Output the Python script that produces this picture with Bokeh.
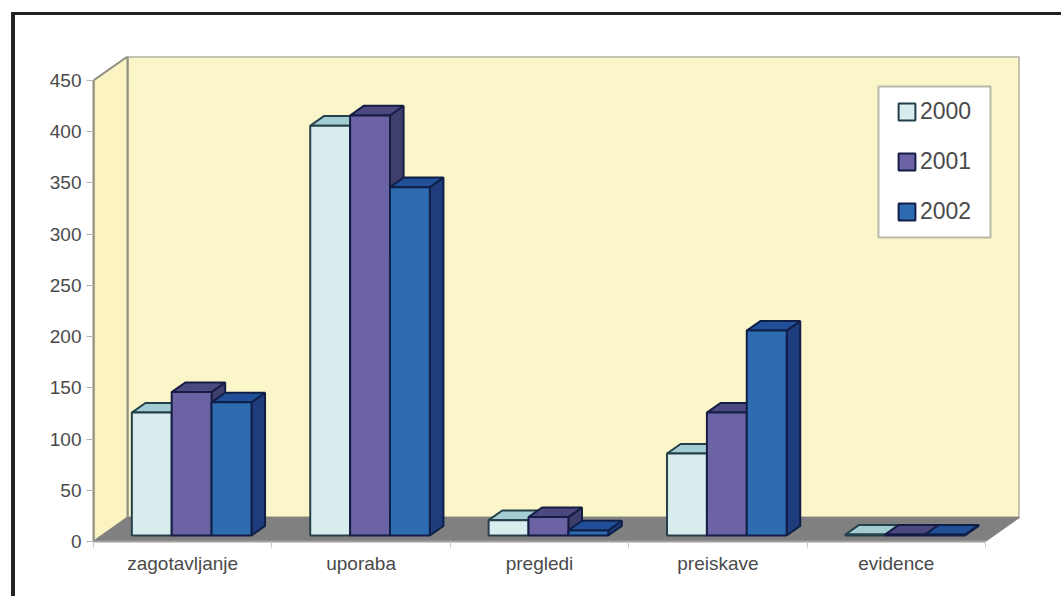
from bokeh.embed import file_html
from bokeh.models import (ColumnDataSource, FixedTicker, InlineStyleSheet, Legend,
                          LegendItem, LinearAxis, Range1d)
from bokeh.plotting import figure
from bokeh.resources import INLINE

# Chart data
categories = ["zagotavljanje", "uporaba", "pregledi", "preiskave", "evidence"]
years = ["2000", "2001", "2002"]
values_2000 = [120, 400, 15, 80, 1]
values_2001 = [140, 410, 18, 120, 1]
values_2002 = [130, 340, 5, 200, 1]
y_ticks = [0, 50, 100, 150, 200, 250, 300, 350, 400, 450]

# Colours per series: front, top and side faces, then the outline
palette = {
    "2000": ("#d9edee", "#a3cdd2", "#7fa9ae", "#24404a"),
    "2001": ("#6b63a3", "#4c4981", "#3f3f6c", "#161d44"),
    "2002": ("#2e6cb2", "#215099", "#1f3c7d", "#101f48"),
}
WALL = "#fbf6c9"
SIDE_WALL = "#fbf4c2"
FLOOR = "#808080"
WALL_LINE = "#8f8f82"
TEXT = "#4a4a4a"

# Pseudo-3D geometry in data units (one category = 1 on x)
DEPTH_X = 0.1906
DEPTH_Y = 23.4
N = len(categories)
BAR_W = 0.2235
GROUP_PAD = 0.1672
BAR_NEAR = 0.25
BAR_FAR = 0.65

p = figure(width=1061, height=596, output_backend="svg", toolbar_location=None,
           x_range=Range1d(0, N + DEPTH_X), y_range=Range1d(0, 450 + DEPTH_Y),
           min_border_left=93, min_border_right=42, min_border_top=56,
           min_border_bottom=55, x_axis_type=None, y_axis_type=None,
           outline_line_color=None, background_fill_color="white",
           border_fill_color="white")
p.grid.visible = False

# Dark frame along the top and left of the page
p.stylesheets = [InlineStyleSheet(css="""
:host { position: relative; }
:host::after {
  content: ""; position: absolute; left: 11px; top: 12px; right: 0; bottom: 0;
  border-left: 4px solid #222222; border-top: 3px solid #222222;
  pointer-events: none;
}
""")]

# Back wall, left wall and floor of the chart box
p.patch([DEPTH_X, N + DEPTH_X, N + DEPTH_X, DEPTH_X],
        [DEPTH_Y, DEPTH_Y, 450 + DEPTH_Y, 450 + DEPTH_Y],
        fill_color=WALL, line_color=WALL_LINE, line_width=2)
p.patch([0, DEPTH_X, DEPTH_X, 0], [0, DEPTH_Y, 450 + DEPTH_Y, 450],
        fill_color=SIDE_WALL, line_color=WALL_LINE, line_width=2)
p.patch([0, N, N + DEPTH_X, DEPTH_X], [0, 0, DEPTH_Y, DEPTH_Y],
        fill_color=FLOOR, line_color=FLOOR, line_width=1)

# Bars, drawn left to right so that each front hides its neighbour's side
near_x = BAR_NEAR * DEPTH_X
near_y = BAR_NEAR * DEPTH_Y
span_x = (BAR_FAR - BAR_NEAR) * DEPTH_X
span_y = (BAR_FAR - BAR_NEAR) * DEPTH_Y
legend_items = []
for s, (year, vals) in enumerate(zip(years, [values_2000, values_2001, values_2002])):
    front_c, top_c, side_c, edge = palette[year]
    left = [i + GROUP_PAD + s * BAR_W + near_x for i in range(N)]
    right = [x + BAR_W for x in left]
    top = [near_y + v for v in vals]
    tops_x = [[l, r, r + span_x, l + span_x] for l, r in zip(left, right)]
    tops_y = [[t, t, t + span_y, t + span_y] for t in top]
    side_x = [[r, r + span_x, r + span_x, r] for r in right]
    side_y = [[near_y, near_y + span_y, t + span_y, t] for t in top]
    p.patches(side_x, side_y, fill_color=side_c, line_color=edge, line_width=2)
    p.patches(tops_x, tops_y, fill_color=top_c, line_color=edge, line_width=2)
    src = ColumnDataSource(dict(left=left, right=right, top=top, bottom=[near_y] * N))
    front = p.quad(left="left", right="right", top="top", bottom="bottom", source=src,
                   fill_color=front_c, line_color=edge, line_width=2)
    legend_items.append(LegendItem(label=year, renderers=[front]))

# Value axis
y_axis = LinearAxis(ticker=FixedTicker(ticks=y_ticks), bounds=(0, 450),
                    axis_line_color=WALL_LINE, axis_line_width=2,
                    major_tick_line_color="#b5b5b0", major_tick_out=7, major_tick_in=0,
                    minor_tick_line_color=None, major_label_standoff=5,
                    major_label_text_font="Liberation Sans",
                    major_label_text_font_size="19px", major_label_text_color=TEXT)
p.add_layout(y_axis, "left")

# Category axis: labels sit mid-category, tick marks on the category boundaries
x_axis = LinearAxis(ticker=FixedTicker(ticks=[i + 0.5 for i in range(N)],
                                       minor_ticks=list(range(N + 1))),
                    major_label_overrides={i + 0.5: c for i, c in enumerate(categories)},
                    bounds=(0, N), axis_line_color="#a0a0a0", axis_line_width=2,
                    major_tick_line_color=None, major_tick_out=0, major_tick_in=0,
                    minor_tick_line_color="#c8c8c8", minor_tick_out=6, minor_tick_in=0,
                    major_label_standoff=5, major_label_text_font="Liberation Sans",
                    major_label_text_font_size="19px", major_label_text_color=TEXT)
p.add_layout(x_axis, "below")

# White panel behind the legend entries, with a separate inset from its rows
p.quad(left=[4.40], right=[5.028], bottom=[296.8], top=[444.2],
       fill_color="white", line_color="#b9b9aa", line_width=2)

legend = Legend(items=legend_items, location=(803, 316), orientation="vertical",
                background_fill_alpha=0, border_line_color=None,
                glyph_width=21, glyph_height=21, label_standoff=3, spacing=23,
                padding=19, margin=0, label_text_font="Liberation Sans",
                label_text_font_size="23px", label_text_color=TEXT)
p.add_layout(legend)

open("out.html", "w").write(file_html(p, INLINE))
